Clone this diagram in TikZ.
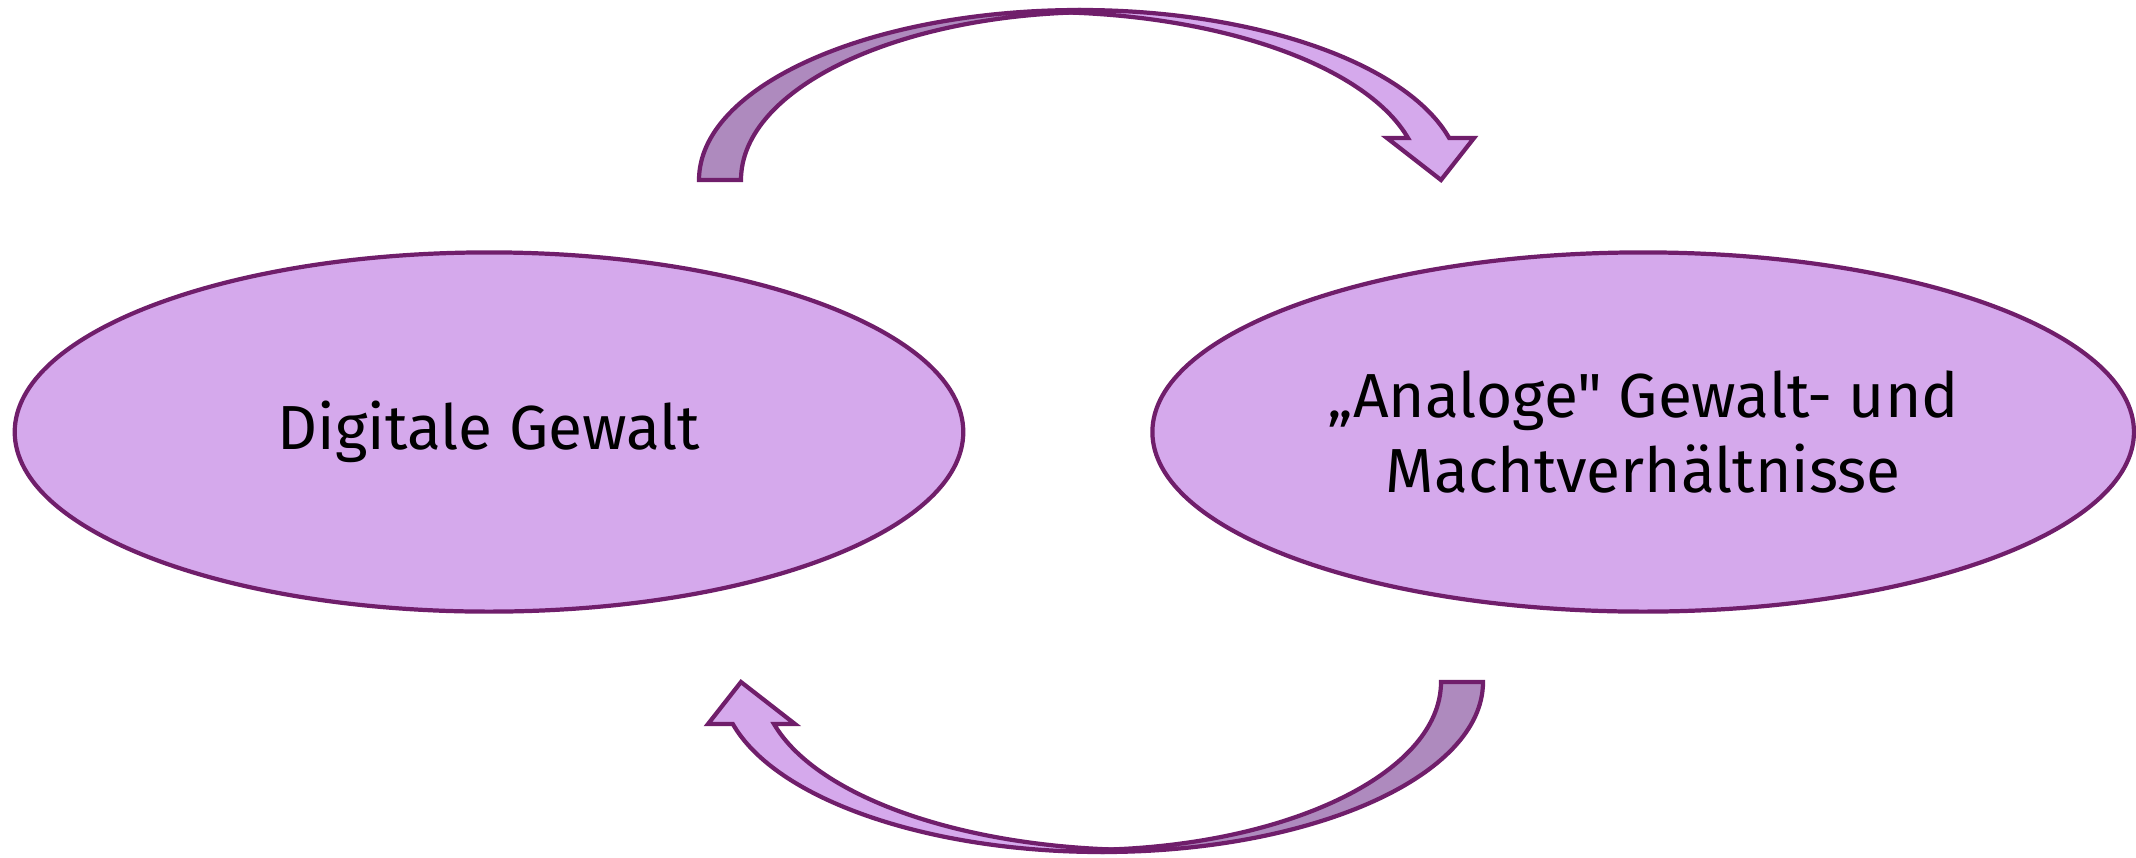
\documentclass[tikz,border=0pt]{standalone}
\usepackage{fontspec}
\setmainfont{Fira Sans}[Ligatures=TeXOff]
\usetikzlibrary{positioning}
\usetikzlibrary{shapes.geometric}
\definecolor{lavFill}{HTML}{D5A9EC}
\definecolor{lavDark}{HTML}{AE8ABE}
\definecolor{plumLine}{HTML}{701E6B}
\tikzset{every picture/.style={line width=1.2pt}}
\tikzset{bubble/.style={ellipse,draw=plumLine,fill=lavFill,align=center,inner sep=0pt,outer sep=0pt,minimum height=3.59cm,
    font=\fontsize{17.7}{21.3}\selectfont}}
\tikzset{pics/bowarrow/.style={code={
    % back part of the arrow (darker)
    \filldraw[draw=plumLine,fill=lavDark] (699,-180) arc[start angle=180,end angle=90,x radius=381,y radius=170]
        -- (1100,-12) arc[start angle=90,end angle=180,x radius=359,y radius=168] -- cycle;
    % front part with head
    \filldraw[draw=plumLine,fill=lavFill] (1080,-10) arc[start angle=90,end angle=14.3,x radius=381,y radius=170]
        -- (1474,-138) -- (1441,-180) -- (1387,-138) -- (1408,-138)
        arc[start angle=14.48,end angle=90,x radius=380,y radius=168] -- cycle;
}}}
\begin{document}
\begin{tikzpicture}[x=0.01cm,y=0.01cm]
        \useasboundingbox (0,0) rectangle (2136,-857);
        \node [bubble,minimum width=9.48cm] (dig) at (489,-432) {Digitale Gewalt};
        \node [bubble,minimum width=9.81cm,right=1.89cm of dig] (ana) {„Analoge" Gewalt- und\\Machtverhältnisse};
        \pic at (0,0) {bowarrow};
        \pic [rotate=180] at (2182,-862) {bowarrow};
\end{tikzpicture}
\end{document}
